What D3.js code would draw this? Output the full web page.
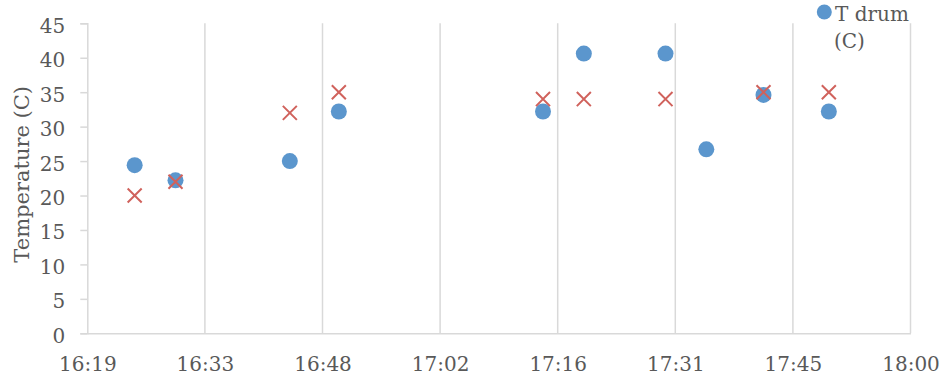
<!DOCTYPE html>
<html>
<head>
<meta charset="utf-8">
<script src="https://cdn.jsdelivr.net/npm/d3@7"></script>
<style>
  html, body { margin: 0; padding: 0; background: #fff; }
  svg { display: block; }
  text { font-family: "DejaVu Serif", "Liberation Serif", serif; fill: #595959; }
</style>
</head>
<body>
<svg id="chart" width="942" height="381"></svg>
<script>
// ---- data ----
const drumTimes = ["16:25", "16:30", "16:44", "16:50", "17:15", "17:20", "17:30", "17:35", "17:42", "17:50"];
const drumTemps = [24.4, 22.2, 25.0, 32.2, 32.2, 40.6, 40.6, 26.7, 34.6, 32.2];
const setTimes = ["16:25", "16:30", "16:44", "16:50", "17:15", "17:20", "17:30", "17:42", "17:50"];
const setTemps = [20, 22, 32, 35, 34, 34, 34, 35, 35];
const xTickDays = [0.68, 0.69, 0.70, 0.71, 0.72, 0.73, 0.74, 0.75];
const xTickLabels = ["16:19", "16:33", "16:48", "17:02", "17:16", "17:31", "17:45", "18:00"];
const yTicks = [0, 5, 10, 15, 20, 25, 30, 35, 40, 45];
const legendLines = ["T drum", "(C)"];
const yTitle = "Temperature (C)";

const toDays = s => { const [h, m] = s.split(":").map(Number); return (h * 60 + m) / 1440; };

const svg = d3.select("#chart");
const mLeft = 87.3, mRight = 910.5, mTop = 23.3, mBottom = 333.3;

const x = d3.scaleLinear().domain([0.68, 0.75]).range([mLeft, mRight]);
const y = d3.scaleLinear().domain([0, 45]).range([mBottom, mTop]);

const grid = "#D9D9D9";

// vertical gridlines
svg.append("g").selectAll("line").data(xTickDays.slice(1)).join("line")
  .attr("x1", d => x(d)).attr("x2", d => x(d))
  .attr("y1", y(45)).attr("y2", y(0))
  .attr("stroke", grid).attr("stroke-width", 1.5);

// y axis
const yAxis = d3.axisLeft(y).tickValues(yTicks).tickSize(7).tickPadding(15).tickFormat(d3.format("d"));
const yg = svg.append("g").attr("transform", `translate(${mLeft},0)`).call(yAxis);
yg.select(".domain").attr("stroke", grid).attr("stroke-width", 1.5);
yg.selectAll(".tick line").attr("stroke", grid).attr("stroke-width", 1.5);
yg.selectAll(".tick text").attr("font-size", 20).attr("fill", "#595959")
  .attr("font-family", "DejaVu Serif, serif").attr("dy", "0.45em");

// x axis
const xAxis = d3.axisBottom(x).tickValues(xTickDays).tickSize(0).tickPadding(24)
  .tickFormat((d, i) => xTickLabels[i]);
const xg = svg.append("g").attr("transform", `translate(0,${mBottom})`).call(xAxis);
xg.select(".domain").attr("stroke", grid).attr("stroke-width", 1.5);
xg.selectAll(".tick text").attr("font-size", 20).attr("fill", "#595959")
  .attr("font-family", "DejaVu Serif, serif");

// y title
svg.append("text")
  .attr("transform", `translate(29,${(mTop + mBottom) / 2 - 4}) rotate(-90)`)
  .attr("text-anchor", "middle")
  .attr("font-size", 21)
  .text(yTitle);

// blue dots
svg.append("g").selectAll("circle").data(drumTimes.map((t, i) => [toDays(t), drumTemps[i]])).join("circle")
  .attr("cx", d => x(d[0])).attr("cy", d => y(d[1])).attr("r", 8)
  .attr("fill", "#5B96CD");

// red X series
const xSym = d3.symbol().type(d3.symbolX).size(130);
svg.append("g").selectAll("path").data(setTimes.map((t, i) => [toDays(t), setTemps[i]])).join("path")
  .attr("d", xSym)
  .attr("transform", d => `translate(${x(d[0])},${y(d[1])})`)
  .attr("fill", "none").attr("stroke", "#D0625C").attr("stroke-width", 2);

// legend
svg.append("circle").attr("cx", 824.3).attr("cy", 12).attr("r", 7.5).attr("fill", "#5B96CD");
svg.append("g").selectAll("text").data(legendLines).join("text")
  .attr("x", (d, i) => i === 0 ? 835 : 834)
  .attr("y", (d, i) => 20.5 + i * 27)
  .attr("font-size", 20)
  .text(d => d);
</script>
</body>
</html>
